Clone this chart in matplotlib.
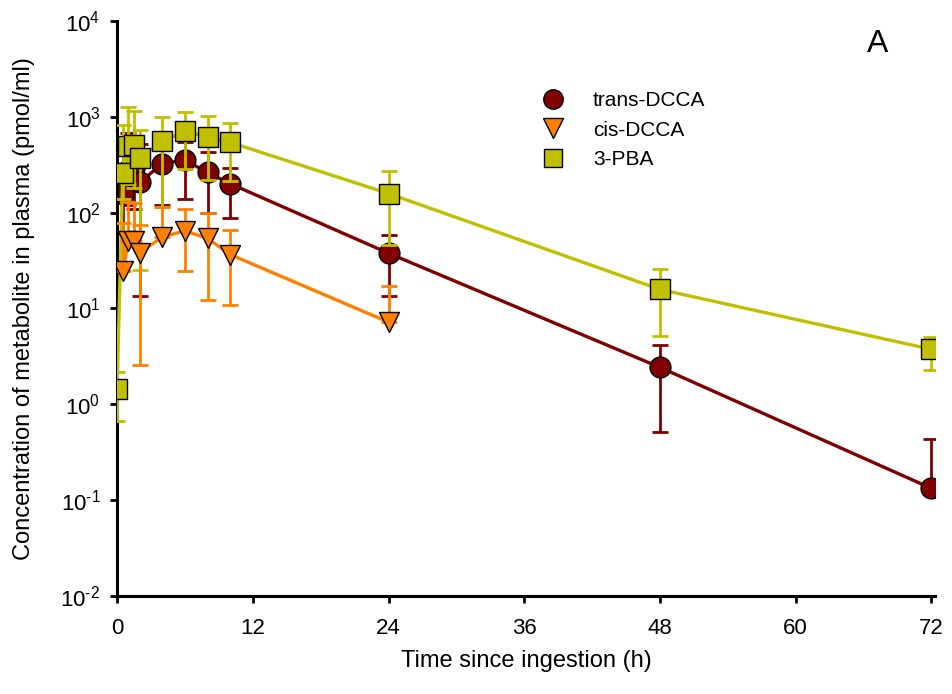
import matplotlib
matplotlib.use("Agg")
import matplotlib.pyplot as plt
import numpy as np
from matplotlib.lines import Line2D

plt.rcParams['font.family'] = ['Liberation Sans', 'DejaVu Sans']
plt.rcParams['mathtext.fontset'] = 'custom'
plt.rcParams['mathtext.rm'] = 'Liberation Sans'
plt.rcParams['mathtext.it'] = 'Liberation Sans'
plt.rcParams['mathtext.bf'] = 'Liberation Sans'

# 3-PBA (has a t=0 point)
pba_t = [0, 0.5, 1, 1.5, 2, 4, 6, 8, 10, 24, 48, 72]
pba_y = [1.45, 260, 490, 510, 375, 555, 705, 620, 540, 158, 15.8, 3.75]
pba_hi = [2.2, 820, 1250, 1150, 730, 1000, 1110, 1020, 870, 270, 26, 5.1]
pba_lo = [0.67, 140, 200, 180, 25, 114, 283, 218, 215, 46, 5.2, 2.3]

# trans-DCCA
trans_t = [0.5, 1, 1.5, 2, 4, 6, 8, 10, 24, 48, 72]
trans_y = [155, 280, 290, 206, 325, 352, 262, 200, 37.7, 2.43, 0.133]
trans_hi = [447, 680, 600, 520, 660, 546, 424, 293, 59, 4.2, 0.44]
trans_lo = [60, 120, 110, 13.5, 120, 140, 98, 87, 13.5, 0.51, 0.133]

# cis-DCCA
cis_t = [0.5, 1, 1.5, 2, 4, 6, 8, 10, 24]
cis_y = [24.5, 51, 51, 38, 55.7, 64.5, 53.8, 36.5, 7.2]
cis_hi = [77, 130, 125, 74, 114, 110, 100, 65.5, 17]
cis_lo = [24.5, 51, 51, 2.6, 55.7, 24.5, 12.2, 10.9, 7.2]

c_trans = '#800000'
c_cis = '#FF8000'
c_pba = '#C0C000'

fig = plt.figure(figsize=(9.52, 6.94), dpi=100)
ax = fig.add_axes([0.123, 0.141, 0.859, 0.829])


def draw(t, y, lo, hi, color, marker, ms, z):
    y = np.array(y)
    yerr = [y - np.array(lo), np.array(hi) - y]
    ax.errorbar(t, y, yerr=yerr, fmt='none', ecolor=color, elinewidth=2.0,
                capsize=6, capthick=2.0, zorder=z)
    ax.plot(t, y, color=color, lw=2.4, marker=marker, ms=ms,
            markerfacecolor=color, markeredgecolor='black', markeredgewidth=1.0,
            zorder=z + 0.5)


draw(trans_t, trans_y, trans_lo, trans_hi, c_trans, 'o', 15, 2)
draw(pba_t, pba_y, pba_lo, pba_hi, c_pba, 's', 14, 3)
draw(cis_t, cis_y, cis_lo, cis_hi, c_cis, 'v', 15, 4)

ax.set_yscale('log')
ax.set_ylim(1e-2, 1e4)
ax.set_xlim(0, 72.3)
ax.set_xticks([0, 12, 24, 36, 48, 60, 72])
yt = [1e-2, 1e-1, 1, 10, 100, 1e3, 1e4]
ax.set_yticks(yt)
ax.set_yticklabels(['10$^{\\text{%d}}$' % int(np.log10(v)) for v in yt])
ax.yaxis.set_minor_locator(matplotlib.ticker.NullLocator())

for s in ['top', 'right']:
    ax.spines[s].set_visible(False)
for s in ['left', 'bottom']:
    ax.spines[s].set_linewidth(2.2)
ax.tick_params(axis='both', which='major', direction='out', length=5, width=2,
               labelsize=16, pad=7)
ax.tick_params(axis='x', pad=11)

ax.set_xlabel('Time since ingestion (h)', fontsize=17, labelpad=8)
ax.set_ylabel('Concentration of metabolite in plasma (pmol/ml)', fontsize=17,
              labelpad=18)

ax.text(0.93, 0.96, 'A', transform=ax.transAxes, fontsize=23, ha='center', va='center')

handles = [
    Line2D([], [], ls='none', marker='o', ms=14, markerfacecolor=c_trans, markeredgecolor='black'),
    Line2D([], [], ls='none', marker='v', ms=14, markerfacecolor=c_cis, markeredgecolor='black'),
    Line2D([], [], ls='none', marker='s', ms=13, markerfacecolor=c_pba, markeredgecolor='black'),
]
ax.legend(handles, ['trans-DCCA', 'cis-DCCA', '3-PBA'], loc='upper left',
          bbox_to_anchor=(0.485, 0.91), frameon=False, fontsize=15,
          handletextpad=0.9, labelspacing=0.5)

fig.savefig('out.png', dpi=100)
